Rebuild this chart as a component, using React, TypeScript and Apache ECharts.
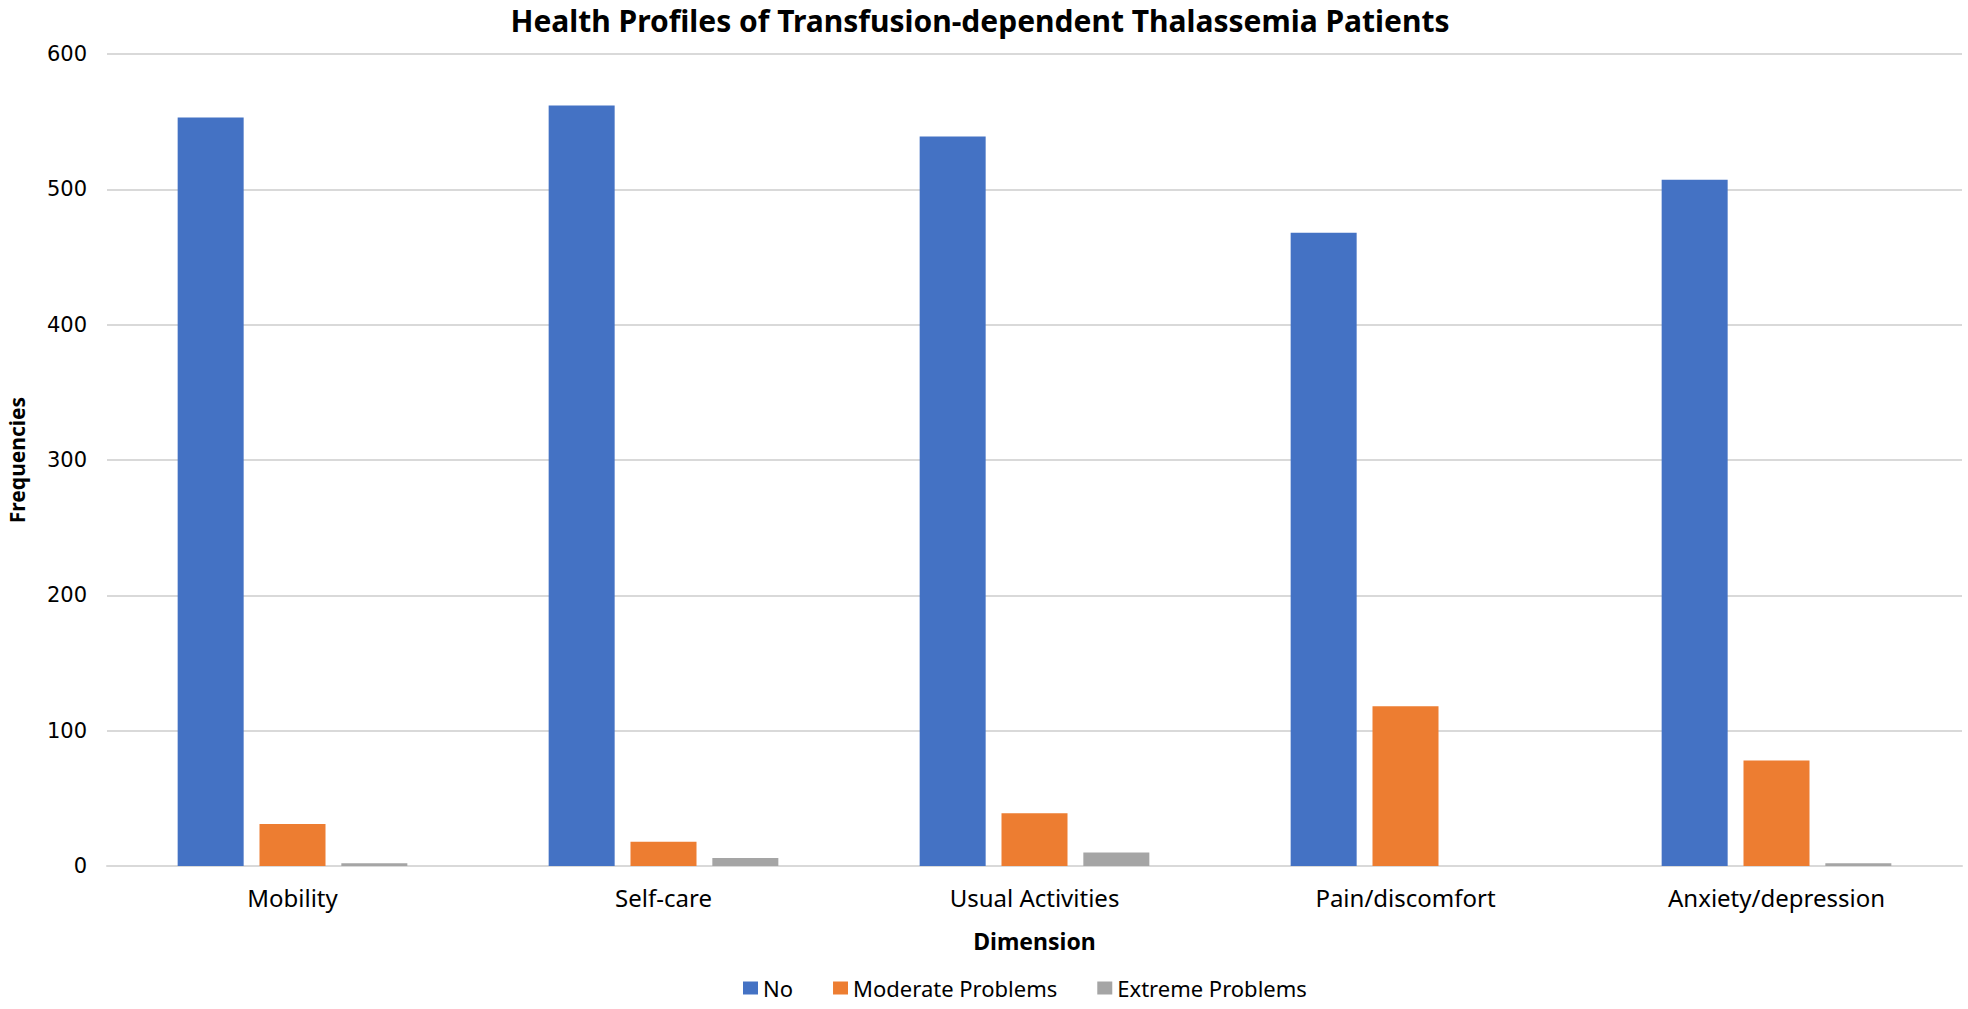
import React, { useEffect, useRef } from "react";
import * as echarts from "echarts";

const categories = ["Mobility", "Self-care", "Usual Activities", "Pain/discomfort", "Anxiety/depression"];
const seriesNames = ["No", "Moderate Problems", "Extreme Problems"];
const noValues = [553, 562, 539, 468, 507];
const moderateValues = [31, 18, 39, 118, 78];
const extremeValues = [2, 6, 10, 0, 2];
const yTicks = { min: 0, max: 600, interval: 100 };
const colors = ["#4472C4", "#ED7D31", "#A5A5A5"];

export default function App() {
  const ref = useRef<HTMLDivElement>(null);
  useEffect(() => {
    if (!ref.current) return;
    const chart = echarts.init(ref.current, null, { renderer: "svg" });
    const font = "'Noto Sans', 'Open Sans', sans-serif";
    const mk = (name: string, data: number[], color: string) => ({
      name,
      type: "bar",
      data,
      barWidth: 66,
      barGap: "24%",
      itemStyle: { color },
    });
    chart.setOption({
      animation: false,
      backgroundColor: "#ffffff",
      title: {
        text: "Health Profiles of Transfusion-dependent Thalassemia Patients",
        left: 980,
        textAlign: "center",
        top: 4,
        padding: 0,
        textStyle: { fontFamily: font, fontSize: 30, fontWeight: "bold", color: "#000", lineHeight: 32 },
      },
      legend: {
        data: seriesNames,
        bottom: 5,
        left: 738,
        itemWidth: 15,
        itemHeight: 13,
        itemGap: 40,
        icon: "rect",
        textStyle: { fontFamily: font, fontSize: 22, color: "#000" },
      },
      grid: { left: 107, right: 6, top: 54, bottom: 143, containLabel: false, outerBoundsMode: "none" },
      xAxis: {
        type: "category",
        data: categories,
        name: "Dimension",
        nameLocation: "middle",
        nameGap: 63,
        nameTextStyle: { fontFamily: font, fontSize: 23, fontWeight: "bold", color: "#000" },
        axisLine: { show: true, lineStyle: { color: "#D9D9D9", width: 2 } },
        axisTick: { show: false },
        axisLabel: { fontFamily: font, fontSize: 24, color: "#000", margin: 19 },
      },
      yAxis: {
        type: "value",
        min: yTicks.min,
        max: yTicks.max,
        interval: yTicks.interval,
        name: "Frequencies",
        nameLocation: "middle",
        nameGap: 80,
        nameRotate: 90,
        nameTextStyle: { fontFamily: font, fontSize: 21, fontWeight: "bold", color: "#000" },
        axisLine: { show: false },
        axisTick: { show: false },
        splitLine: { lineStyle: { color: "#D9D9D9", width: 2 } },
        axisLabel: { fontFamily: "'DejaVu Sans', sans-serif", fontSize: 21, color: "#000", margin: 20 },
      },
      series: [
        mk(seriesNames[0], noValues, colors[0]),
        mk(seriesNames[1], moderateValues, colors[1]),
        mk(seriesNames[2], extremeValues, colors[2]),
      ],
    });
    return () => chart.dispose();
  }, []);
  return <div ref={ref} style={{ width: 1968, height: 1009, position: "absolute", left: 0, top: 0 }} />;
}
